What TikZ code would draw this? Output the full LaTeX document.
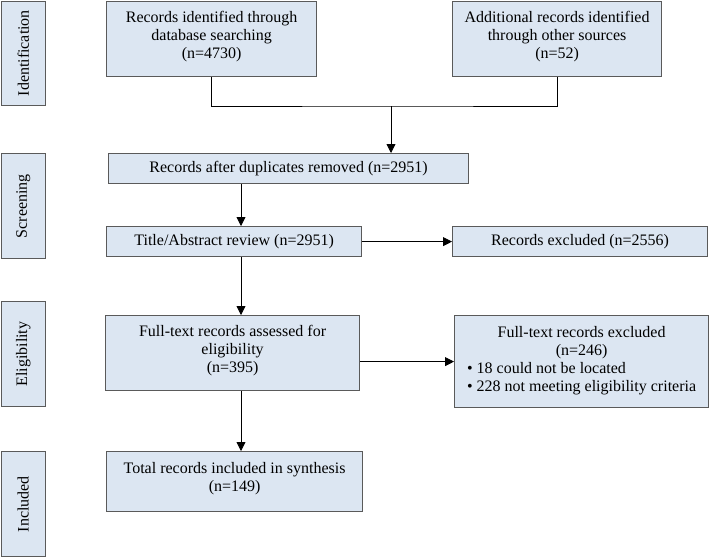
\documentclass[tikz,border=0pt]{standalone}
\usepackage{fontspec}
\setmainfont{Liberation Serif}
\usetikzlibrary{arrows.meta}
\definecolor{boxfill}{HTML}{DCE6F2}
\definecolor{boxline}{HTML}{5A5A5A}
\newlength\bulw
\newcommand{\boxfont}{\fontsize{16}{18}\selectfont}
\begin{document}
\settowidth{\bulw}{\boxfont\textbullet\ 228 not meeting eligibility criteria}%
\begin{tikzpicture}[x=1pt,y=-1pt,
  box/.style={draw=boxline, line width=1.2pt, fill=boxfill, anchor=north west,
    inner sep=0pt, align=center, font=\boxfont},
  stage/.style={box},
  conn/.style={line width=0.8pt, draw=black},
  arr/.style={conn, -{Triangle[length=9pt,width=9pt]}}]
\useasboundingbox (0,0) rectangle (709,557);
% stage labels
\node[stage, minimum width=44pt, minimum height=104pt] (s1) at (0.6,0.6) {\rotatebox{90}{Identification}};
\node[stage, minimum width=44pt, minimum height=105pt] (s2) at (0.6,153) {\rotatebox{90}{Screening}};
\node[stage, minimum width=44pt, minimum height=105pt] (s3) at (0.6,301) {\rotatebox{90}{Eligibility}};
\node[stage, minimum width=44pt, minimum height=105pt] (s4) at (0.6,451) {\rotatebox{90}{Included}};
% boxes
\node[box, minimum width=210pt, minimum height=75pt] (id1) at (106,1) {Records identified through\\database searching\\(n=4730)\\[-9pt]};
\node[box, minimum width=209pt, minimum height=75pt] (id2) at (452,1) {Additional records identified\\through other sources\\(n=52)\\[-9pt]};
\node[box, minimum width=360pt, minimum height=30pt] (dup) at (108,153) {Records after duplicates removed (n=2951)};
\node[box, minimum width=255pt, minimum height=30pt] (title) at (106,226) {Title/Abstract review (n=2951)};
\node[box, minimum width=255pt, minimum height=30pt] (excl) at (452,226) {Records excluded (n=2556)};
\node[box, minimum width=254pt, minimum height=75pt] (full) at (105,315) {Full-text records assessed for\\eligibility\\(n=395)\\[-9pt]};
\node[box, minimum width=254pt, minimum height=92pt] (fullex) at (454,315) {Full-text records excluded\\(n=246)\\\makebox[\bulw][l]{\textbullet\ 18 could not be located}\\\makebox[\bulw][l]{\textbullet\ 228 not meeting eligibility criteria}\\[-12pt]};
\node[box, minimum width=256pt, minimum height=60pt] (total) at (106,451) {Total records included in synthesis\\(n=149)\\[-9pt]};
% connectors
\coordinate (j) at (391,106);
\coordinate (col) at (241,0);
\draw[conn] (id1.south) |- (j) -| (id2.south);
\draw[arr] (j) -- (j |- dup.north);
\draw[arr] (dup.south -| col) -- (title.north -| col);
\draw[arr] (title.east) -- (excl.west);
\draw[arr] (title.south -| col) -- (full.north -| col);
\draw[arr] (full.east |- fullex.west) -- (fullex.west);
\draw[arr] (full.south -| col) -- (total.north -| col);
\end{tikzpicture}
\end{document}
